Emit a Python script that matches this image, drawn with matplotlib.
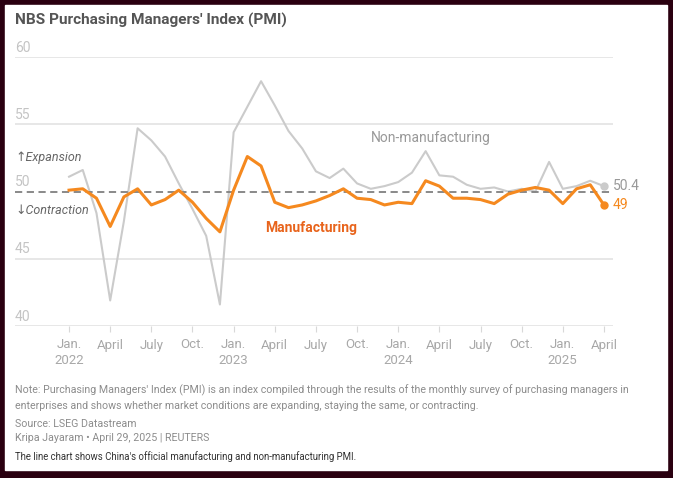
import numpy as np
import matplotlib.pyplot as plt
from matplotlib.transforms import blended_transform_factory

# monthly NBS PMI, Jan 2022 .. Apr 2025
months = ["2022-01", "2022-02", "2022-03", "2022-04", "2022-05", "2022-06",
          "2022-07", "2022-08", "2022-09", "2022-10", "2022-11", "2022-12",
          "2023-01", "2023-02", "2023-03", "2023-04", "2023-05", "2023-06",
          "2023-07", "2023-08", "2023-09", "2023-10", "2023-11", "2023-12",
          "2024-01", "2024-02", "2024-03", "2024-04", "2024-05", "2024-06",
          "2024-07", "2024-08", "2024-09", "2024-10", "2024-11", "2024-12",
          "2025-01", "2025-02", "2025-03", "2025-04"]
manufacturing = [50.1, 50.2, 49.5, 47.4, 49.6, 50.2, 49.0, 49.4, 50.1, 49.2, 48.0, 47.0,
                 50.1, 52.6, 51.9, 49.2, 48.8, 49.0, 49.3, 49.7, 50.2, 49.5, 49.4, 49.0,
                 49.2, 49.1, 50.8, 50.4, 49.5, 49.5, 49.4, 49.1, 49.8, 50.1, 50.3, 50.1,
                 49.1, 50.2, 50.5, 49.0]
non_manufacturing = [51.1, 51.6, 48.4, 41.9, 47.8, 54.7, 53.8, 52.6, 50.6, 48.7, 46.7, 41.6,
                     54.4, 56.3, 58.2, 56.4, 54.5, 53.2, 51.5, 51.0, 51.7, 50.6, 50.2, 50.4,
                     50.7, 51.4, 53.0, 51.2, 51.1, 50.5, 50.2, 50.3, 50.0, 50.2, 50.0, 52.2,
                     50.2, 50.4, 50.8, 50.4]
tick_labels = ["Jan.\n2022", "April", "July", "Oct.", "Jan.\n2023", "April", "July", "Oct.",
               "Jan.\n2024", "April", "July", "Oct.", "Jan.\n2025", "April"]
y_ticks = [40, 45, 50, 55, 60]

narrow = ["Liberation Sans Narrow", "Roboto", "DejaVu Sans"]
plt.rcParams["font.family"] = narrow

ORANGE = "#f5891f"
GREY_LINE = "#cbcbcb"
TEXT_GREY = "#999999"

fig = plt.figure(figsize=(6.73, 4.78), dpi=100)
fig.patch.set_facecolor("#2a0010")
# white card
fig.add_artist(plt.Rectangle((5 / 673, 8 / 478), 662 / 673, 465 / 478,
                             transform=fig.transFigure, color="white", zorder=0))

ax = fig.add_axes([15 / 673, (478 - 326) / 478, 598 / 673, 269 / 478])
ax.set_facecolor("none")
x = np.arange(len(months))
ax.set_xlim(-3.94, 39.66)
ax.set_ylim(40, 60)
for s in ax.spines.values():
    s.set_visible(False)

for yv in y_ticks:
    if yv == 50:
        ax.axhline(yv, color="#808080", lw=1.3, ls=(0, (4, 2.5)), zorder=3)
    else:
        ax.axhline(yv, color="#e3e3e3", lw=1.2, zorder=1)

trans = blended_transform_factory(ax.transAxes, ax.transData)
for yv in y_ticks:
    ax.text(0, yv + 0.7, str(yv), transform=trans, fontsize=10, color="#c4c4c4",
            ha="left", va="center")

ax.plot(x, non_manufacturing, color=GREY_LINE, lw=1.5, zorder=2)
ax.plot(x, manufacturing, color=ORANGE, lw=2.2, zorder=4)
ax.plot(x[-1], non_manufacturing[-1], "o", color=GREY_LINE, ms=5, zorder=4)
ax.plot(x[-1], manufacturing[-1], "o", color=ORANGE, ms=5, zorder=5)
ax.text(x[-1] + 0.65, non_manufacturing[-1], f"{non_manufacturing[-1]}", color=TEXT_GREY,
        fontsize=10, va="center")
ax.text(x[-1] + 0.65, manufacturing[-1], f"{manufacturing[-1]:g}", color=ORANGE,
        fontsize=10, va="center")

ax.text(22.0, 54.0, "Non-manufacturing", color=TEXT_GREY, fontsize=10, ha="left", va="center")
ax.text(14.3, 47.3, "Manufacturing", color="#e8641c", fontsize=10, fontweight="bold",
        ha="left", va="center")
ax.text(0, 52.55, "\u2191Expansion", transform=trans, color="#666666", fontsize=9,
        style="italic", va="center")
ax.text(0, 48.6, "\u2193Contraction", transform=trans, color="#666666", fontsize=9,
        style="italic", va="center")

ax.set_xticks(x[::3])
ax.set_xticklabels(tick_labels, fontsize=9.5, color="#a8a8a8", linespacing=1.3)
ax.tick_params(axis="x", length=4, color="#d8d8d8", pad=5)
ax.set_yticks([])

fig.text(15 / 673, 1 - 20 / 478, "NBS Purchasing Managers' Index (PMI)", fontsize=11.1,
         fontweight="bold", color="#555555", va="center", family=["Roboto", "DejaVu Sans"])

foot = "#8c8c8c"
fig.text(15 / 673, 1 - 390 / 478,
         "Note: Purchasing Managers' Index (PMI) is an index compiled through the results of the monthly survey of purchasing managers in",
         fontsize=7.7, color=foot, va="center")
fig.text(15 / 673, 1 - 406 / 478,
         "enterprises and shows whether market conditions are expanding, staying the same, or contracting.",
         fontsize=7.7, color=foot, va="center")
fig.text(15 / 673, 1 - 424 / 478, "Source: LSEG Datastream", fontsize=7.7, color=foot, va="center")
fig.text(15 / 673, 1 - 438 / 478, "Kripa Jayaram \u2022 April 29, 2025 | REUTERS", fontsize=7.7,
         color=foot, va="center")
fig.text(15 / 673, 1 - 457 / 478,
         "The line chart shows China's official manufacturing and non-manufacturing PMI.",
         fontsize=6.9, color="#333333", va="center")

fig.savefig("out.png", dpi=100, facecolor=fig.get_facecolor())
